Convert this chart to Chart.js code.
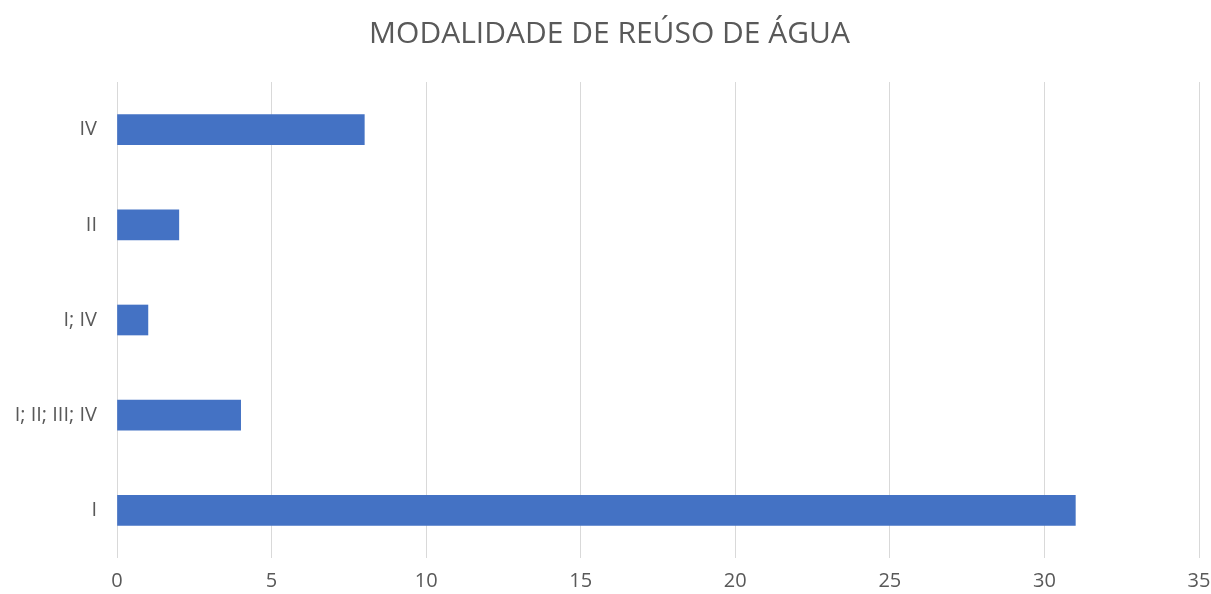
<!DOCTYPE html>
<html>
<head>
<meta charset="utf-8">
<script src="https://cdn.jsdelivr.net/npm/chart.js@4"></script>
<style>
    html, body { margin: 0; padding: 0; background: #ffffff; }
    #wrap { width: 1211px; height: 594px; }
</style>
</head>
<body>
<div id="wrap"><canvas id="chart" width="1211" height="594"></canvas></div>
<script>
const chartTitle = "MODALIDADE DE REÚSO DE ÁGUA";
const categories = ["IV", "II", "I; IV", "I; II; III; IV", "I"];
const counts = [8, 2, 1, 4, 31];
const xMin = 0;
const xMax = 35;
const xStep = 5;

const textColor = "#595959";
const gridColor = "#d9d9d9";
const barColor = "#4472c4";
const fontFamily = "'Open Sans', 'Liberation Sans', sans-serif";

const context = document.getElementById("chart").getContext("2d");
const chart = new Chart(context, {
    type: "bar",
    data: {
        labels: categories,
        datasets: [
            {
                data: counts,
                backgroundColor: barColor,
                borderWidth: 0,
                barThickness: 30,
            },
        ],
    },
    options: {
        indexAxis: "y",
        responsive: false,
        animation: false,
        // no right padding here so the title sits a little right of centre;
        // the x scale keeps the plot off the right edge instead
        layout: { padding: { left: 8, right: 0, top: 0, bottom: 0 } },
        plugins: {
            legend: { display: false },
            tooltip: { enabled: false },
            title: {
                display: true,
                text: chartTitle,
                color: textColor,
                font: { family: fontFamily, size: 30, weight: "normal" },
                padding: { top: 16, bottom: 30 },
            },
        },
        scales: {
            x: {
                min: xMin,
                max: xMax,
                ticks: {
                    stepSize: xStep,
                    color: textColor,
                    font: { family: fontFamily, size: 20 },
                    padding: 11,
                },
                grid: { color: gridColor, drawTicks: false, lineWidth: 1 },
                border: { display: false },
                afterFit: (scale) => {
                    scale.height = 36;
                    scale.paddingLeft = 0;
                    scale.paddingRight = 12;
                },
            },
            y: {
                ticks: {
                    color: textColor,
                    font: { family: fontFamily, size: 20 },
                    padding: 20,
                },
                grid: { display: false, drawTicks: false },
                border: { display: false },
                afterFit: (scale) => { scale.width = 109; },
            },
        },
    },
});
</script>
</body>
</html>
